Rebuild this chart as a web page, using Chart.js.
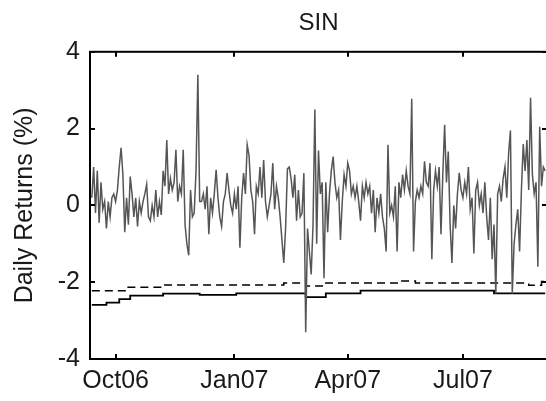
<!DOCTYPE html>
<html><head><meta charset="utf-8">
<script src="https://cdn.jsdelivr.net/npm/chart.js@4.4.1/dist/chart.umd.min.js"></script>
<style>
html,body{margin:0;padding:0;background:#fff;overflow:hidden;width:546px;height:401px}
#wrap{position:absolute;left:0;top:0;width:600px;height:401px}
canvas{display:block;background:#fff}
</style></head>
<body><div id="wrap"><canvas id="c" width="600" height="401"></canvas></div>
<script>
const chartTitle = 'SIN';
const yAxisLabel = 'Daily Returns (%)';
const yTicks = [-4, -2, 0, 2, 4];
const xTickPos = [13, 78, 140, 203];
const xTickLabels = ['Oct06', 'Jan07', 'Apr07', 'Jul07'];

const returnsPct = [
  0.2, 1.0, -0.2, 0.9, -0.45, 0.6, -0.1, 0.1, -0.6, 0.1,
  -0.3, 0.2, 0.3, 0.1, 0.4, 1.0, 1.5, 0.8, -0.7, 0.2,
  -0.5, 0.75, 0.3, -0.3, 0.2, -0.55, 0.1, -0.2, 0.1, 0.3,
  0.55, -0.3, -0.4, 0.0, -0.3, 0.4, -0.3, 0.1, -0.25, 0.9,
  0.5, 1.7, 0.3, 0.7, 0.4, 0.6, 1.45, 0.1, 0.5, 0.3,
  1.45, -0.5, -1.0, -1.3, 0.4, -0.3, -0.2, 0.9, 3.4, 0.1,
  0.1, 0.3, -0.1, 0.5, -0.75, 0.2, -0.2, 0.3, 0.93, 0.2,
  -0.3, -0.55, 0.1, 0.3, 0.84, 0.4, 0.0, -0.2, 0.3, -0.1,
  0.5, -1.1, 0.2, 0.84, 0.3, 1.58, 1.3, 0.4, 0.1, -0.75,
  0.5, 0.3, 1.0, 0.2, 1.18, 0.1, -0.3, 0.0, 0.3, 1.1,
  -0.1, 0.5, 0.2, -0.3, -0.9, -1.5, -0.6, 0.95, 1.0, 0.7,
  0.2, 0.8, -0.4, 0.4, -0.3, -0.2, 0.84, -3.3, -0.6, -1.2,
  -1.8, -0.5, 2.5, -1.0, 1.43, 0.3, 0.6, -1.9, 0.6, -0.7,
  0.3, 0.9, 1.27, 0.6, 0.2, 0.4, -0.9, 0.1, 0.8, 0.5,
  1.1, 0.9, 0.3, 0.5, 0.2, 0.5, 0.1, -0.4, 0.5, 0.2,
  0.6, 0.3, 0.5, -0.2, 0.4, -0.7, 0.2, -0.2, 0.3, -0.3,
  -0.6, -1.2, 1.58, -0.2, 0.0, -0.3, 0.5, -1.2, 0.6, 0.2,
  0.8, 0.4, 0.9, 0.5, 0.3, 2.78, -1.2, 0.1, 0.4, 0.2,
  0.5, 0.3, 1.15, 0.6, 0.5, 1.1, -1.4, 0.4, 0.9, 0.5,
  1.0, -0.75, 0.8, 2.1, 0.6, 1.4, -0.5, -1.5, 0.0, -0.6,
  0.3, 0.85, 0.4, 0.2, 0.6, 0.3, 1.0, -0.1, 0.2, -1.25,
  0.4, 0.6, 0.0, 0.3, -0.2, 0.6, -0.3, -0.9, 0.2, -1.4,
  -0.5, -2.3, 0.3, 0.5, 0.1, 0.7, 1.0, 0.2, 1.35, 1.95,
  -2.3, -1.0, -0.5, -0.1, -1.2, 0.4, 1.6, 0.9, 1.7, 0.4,
  2.8, 0.8, 0.3, 0.6, -1.6, 2.05, 0.5, 1.0, 0.9
];

// dashed threshold line: day index where each level starts, and the level
const dashedStart = [0, 19, 39, 105, 117, 128, 168, 177, 239, 246];
const dashedLevel = [-2.22, -2.13, -2.07, -2.02, -2.10, -2.02, -1.97, -2.02, -2.08, -1.98];
// solid threshold line
const solidStart = [0, 8, 15, 21, 39, 59, 79, 117, 128, 147, 220];
const solidLevel = [-2.59, -2.53, -2.44, -2.35, -2.30, -2.33, -2.29, -2.39, -2.29, -2.22, -2.29];

const FONT = '"Liberation Sans", Arial, Helvetica, sans-serif';
const TEXT = '#1a1a1a';
const lastIdx = returnsPct.length - 1;

function stepPoints(starts, levels) {
  const pts = starts.map((s, i) => ({ x: s, y: levels[i] }));
  pts.push({ x: lastIdx, y: levels[levels.length - 1] });
  return pts;
}

const boxPlugin = {
  id: 'matlabBox',
  afterDatasetsDraw(chart) {
    const { ctx, chartArea: { left, top, right, bottom }, scales: { x, y } } = chart;
    ctx.save();
    ctx.strokeStyle = '#000';
    ctx.lineWidth = 2;
    ctx.strokeRect(left, top, right - left, bottom - top);
    const tl = 5;
    ctx.beginPath();
    xTickPos.forEach(v => {
      const px = Math.round(x.getPixelForValue(v));
      ctx.moveTo(px, bottom); ctx.lineTo(px, bottom - tl);
      ctx.moveTo(px, top); ctx.lineTo(px, top + tl);
    });
    yTicks.forEach(v => {
      const py = Math.round(y.getPixelForValue(v));
      ctx.moveTo(left, py); ctx.lineTo(left + tl, py);
      ctx.moveTo(right, py); ctx.lineTo(right - tl, py);
    });
    ctx.stroke();
    ctx.restore();
  }
};

new Chart(document.getElementById('c'), {
  type: 'line',
  data: {
    datasets: [
      {
        data: returnsPct.map((v, i) => ({ x: i, y: v })),
        borderColor: '#555555', borderWidth: 1.5, pointRadius: 0, tension: 0, fill: false
      },
      {
        data: stepPoints(dashedStart, dashedLevel),
        borderColor: '#000', borderWidth: 1.5, borderDash: [8, 5], pointRadius: 0, stepped: true, fill: false
      },
      {
        data: stepPoints(solidStart, solidLevel),
        borderColor: '#000', borderWidth: 1.8, pointRadius: 0, stepped: true, fill: false
      }
    ]
  },
  options: {
    responsive: false,
    animation: false,
    devicePixelRatio: 1,
    layout: { padding: { left: 0, right: 53, top: 0, bottom: 0 } },
    plugins: {
      legend: { display: false },
      tooltip: { enabled: false },
      title: {
        display: true, text: chartTitle, fullSize: false, color: TEXT,
        font: { family: FONT, size: 24, weight: 'normal' },
        padding: { top: 9, bottom: 14 }
      }
    },
    scales: {
      x: {
        type: 'linear', min: -1, max: 249,
        grid: { display: false, drawTicks: false },
        border: { display: false },
        afterBuildTicks: s => { s.ticks = xTickPos.map(v => ({ value: v })); },
        ticks: {
          autoSkip: false, maxRotation: 0, minRotation: 0, padding: 7, color: TEXT,
          font: { family: FONT, size: 25 },
          callback: (v, i) => xTickLabels[i]
        },
        afterFit: s => { s.height = 42; }
      },
      y: {
        min: -4, max: 4,
        grid: { display: false, drawTicks: false },
        border: { display: false },
        afterBuildTicks: s => { s.ticks = yTicks.map(v => ({ value: v })); },
        ticks: { padding: 10, color: TEXT, font: { family: FONT, size: 25 } },
        title: {
          display: true, text: yAxisLabel, color: TEXT,
          font: { family: FONT, size: 25 }, padding: { top: 10, bottom: 0 }
        },
        afterFit: s => { s.width = 90; }
      }
    }
  },
  plugins: [boxPlugin]
});
</script>
</body></html>
